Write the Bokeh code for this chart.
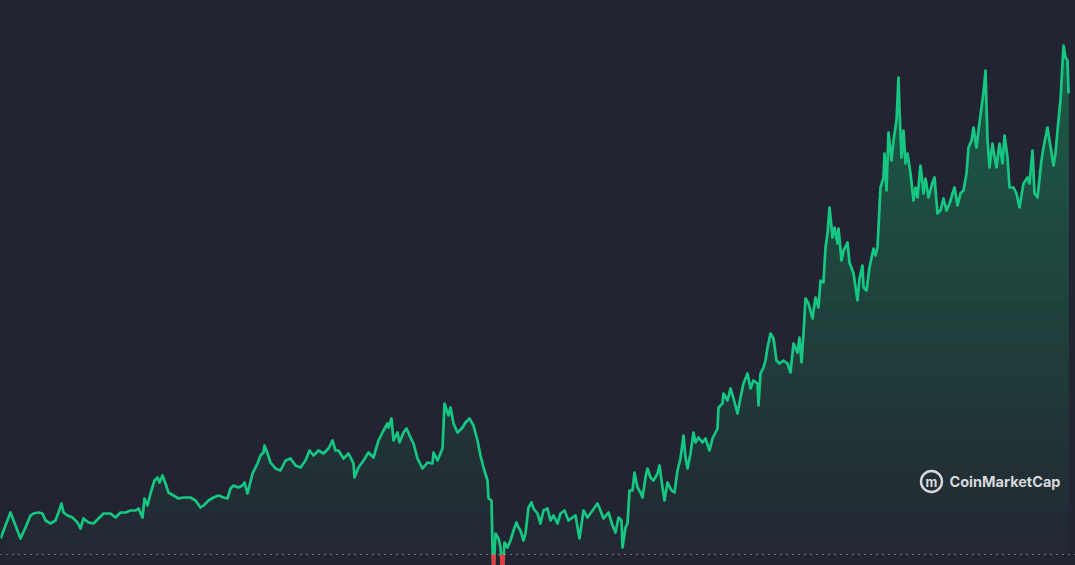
import numpy as np
from bokeh.plotting import figure
from bokeh.models import Span, Label, Range1d
from bokeh.embed import file_html
from bokeh.resources import INLINE

# ---------------- data ----------------
day = [0, 5, 10, 15, 20, 25, 30, 33, 38, 42, 45, 50, 55, 58, 61, 63, 67, 72, 77, 80,
       83, 88, 93, 98, 103, 110, 115, 120, 125, 130, 135, 138, 142, 144, 147, 150, 154, 157, 159, 162,
       165, 168, 173, 178, 183, 190, 195, 200, 203, 208, 213, 218, 223, 227, 230, 233, 238, 242, 244, 247,
       252, 257, 260, 263, 264, 267, 270, 275, 280, 285, 290, 295, 300, 305, 309, 313, 318, 323, 328, 332,
       335, 338, 343, 348, 353, 354, 358, 363, 368, 373, 378, 383, 387, 388, 391, 393, 397, 399, 403, 406,
       410, 413, 417, 422, 427, 432, 433, 437, 442, 444, 448, 450, 453, 457, 462, 465, 469, 473, 477, 480,
       483, 487, 488, 491, 492, 493, 495, 498, 500, 502, 504, 507, 510, 513, 516, 518, 520, 523, 525, 528,
       531, 533, 537, 540, 543, 547, 550, 553, 557, 560, 564, 568, 572, 575, 579, 583, 587, 592, 597, 600,
       603, 608, 612, 615, 618, 621, 622, 625, 627, 629, 632, 634, 637, 640, 642, 645, 647, 650, 653, 657,
       659, 662, 664, 667, 671, 674, 677, 680, 683, 685, 687, 690, 693, 695, 698, 702, 705, 709, 712, 717,
       718, 722, 723, 727, 730, 733, 737, 740, 743, 747, 750, 753, 757, 758, 760, 763, 765, 767, 770, 773,
       776, 779, 783, 787, 790, 793, 797, 799, 801, 803, 805, 808, 812, 815, 818, 820, 823, 825, 827, 829,
       832, 834, 837, 838, 841, 843, 847, 849, 853, 857, 859, 862, 863, 866, 869, 873, 875, 877, 880, 883,
       884, 886, 888, 891, 893, 896, 898, 899, 901, 903, 905, 907, 910, 913, 915, 917, 920, 923, 925, 928,
       932, 934, 937, 940, 943, 946, 949, 954, 957, 960, 963, 966, 968, 971, 973, 976, 978, 981, 983, 985,
       987, 989, 992, 993, 996, 999, 1002, 1004, 1007, 1009, 1013, 1016, 1019, 1023, 1027, 1029, 1032, 1034, 1037, 1041,
       1043, 1047, 1049, 1053, 1055, 1057, 1060, 1062, 1063, 1065, 1067, 1068]

price = [0.62, 0.75, 0.88, 0.75, 0.62, 0.73, 0.85, 0.87, 0.88, 0.87, 0.80, 0.77, 0.80, 0.88, 0.97, 0.88, 0.85, 0.83, 0.78, 0.72,
         0.82, 0.78, 0.77, 0.82, 0.87, 0.87, 0.83, 0.88, 0.88, 0.90, 0.90, 0.92, 0.83, 1.02, 0.95, 1.07, 1.20, 1.23, 1.18, 1.25,
         1.17, 1.08, 1.05, 1.02, 1.03, 1.03, 1.00, 0.93, 0.95, 1.00, 1.03, 1.05, 1.03, 1.02, 1.12, 1.15, 1.13, 1.15, 1.18, 1.07,
         1.27, 1.37, 1.45, 1.48, 1.55, 1.47, 1.38, 1.32, 1.30, 1.40, 1.42, 1.35, 1.33, 1.40, 1.50, 1.45, 1.50, 1.47, 1.52, 1.60,
         1.50, 1.50, 1.42, 1.47, 1.37, 1.23, 1.33, 1.40, 1.48, 1.43, 1.60, 1.70, 1.77, 1.73, 1.82, 1.60, 1.68, 1.58, 1.68, 1.72,
         1.63, 1.57, 1.42, 1.32, 1.38, 1.37, 1.48, 1.40, 1.52, 1.97, 1.85, 1.93, 1.77, 1.68, 1.73, 1.78, 1.82, 1.75, 1.60, 1.45,
         1.33, 1.20, 1.02, 1.00, 0.53, 0.25, 0.67, 0.62, 0.53, 0.25, 0.58, 0.53, 0.60, 0.70, 0.78, 0.73, 0.70, 0.60, 0.67, 0.93,
         0.98, 0.92, 0.87, 0.77, 0.90, 0.92, 0.80, 0.85, 0.77, 0.87, 0.90, 0.80, 0.83, 0.85, 0.62, 0.90, 0.83, 0.90, 0.97, 0.90,
         0.82, 0.88, 0.75, 0.68, 0.83, 0.80, 0.53, 0.73, 0.77, 1.10, 1.10, 1.28, 1.13, 1.08, 1.03, 1.23, 1.32, 1.23, 1.20, 1.27,
         1.35, 1.13, 1.00, 1.18, 1.10, 1.08, 1.30, 1.42, 1.65, 1.43, 1.32, 1.47, 1.68, 1.58, 1.63, 1.58, 1.62, 1.50, 1.62, 1.72,
         1.93, 1.97, 2.07, 2.00, 2.12, 2.02, 1.87, 2.03, 2.17, 2.27, 2.12, 2.20, 2.17, 1.95, 2.27, 2.33, 2.40, 2.53, 2.67, 2.62,
         2.40, 2.37, 2.40, 2.37, 2.28, 2.57, 2.48, 2.63, 2.38, 2.67, 3.02, 2.97, 2.82, 3.03, 2.93, 3.20, 3.18, 3.53, 3.67, 3.93,
         3.63, 3.73, 3.57, 3.72, 3.40, 3.50, 3.58, 3.38, 3.27, 3.00, 3.22, 3.35, 3.13, 3.10, 3.33, 3.52, 3.45, 3.53, 4.13, 4.23,
         4.47, 4.10, 4.68, 4.40, 4.60, 4.80, 5.23, 4.90, 4.43, 4.70, 4.37, 4.47, 4.27, 4.00, 4.13, 4.03, 4.35, 4.07, 4.22, 4.03,
         4.18, 4.23, 3.87, 3.90, 4.02, 3.90, 3.97, 4.13, 3.95, 4.07, 4.10, 4.27, 4.53, 4.60, 4.73, 4.53, 4.70, 4.93, 5.08, 5.30,
         4.60, 4.33, 4.57, 4.50, 4.33, 4.57, 4.37, 4.65, 4.43, 4.13, 4.13, 4.07, 3.93, 4.17, 4.23, 4.17, 4.50, 4.07, 4.03, 4.40,
         4.53, 4.73, 4.60, 4.35, 4.47, 4.70, 5.00, 5.37, 5.55, 5.43, 5.40, 5.07]

open_price = 0.46
watermark = "CoinMarketCap"

# ---------------- style ----------------
BG = "#222531"
GREEN = "#16c784"
RED = "#ea3943"
FILL_TOP = (27, 92, 71)
FILL_BOTTOM = (35, 40, 50)

x = np.array(day, dtype=float)
y = np.array(price, dtype=float)

p = figure(width=1075, height=565, output_backend="svg", toolbar_location=None,
           x_axis_location=None, y_axis_location=None,
           x_range=Range1d(0, 1075), y_range=Range1d(0.35, 6.00),
           background_fill_color=BG, border_fill_color=BG,
           outline_line_color=None, min_border=0)
p.xgrid.visible = False
p.ygrid.visible = False

try:
    from bokeh.models import GlobalInlineStyleSheet
    p.stylesheets = [GlobalInlineStyleSheet(
        css="html, body { background-color: #222531; margin: 0; padding: 0; overflow: hidden; }")]
except Exception:
    pass

# vertical gradient fill: opaque layers painted bottom-up, each covering all area above its level
n_layers = 48
top = y.max()
for k in range(n_layers):
    t = k / (n_layers - 1)
    lvl = open_price + k * (top - open_price) / n_layers
    c = tuple(int(round(FILL_BOTTOM[j] + t * (FILL_TOP[j] - FILL_BOTTOM[j]))) for j in range(3))
    color = "#%02x%02x%02x" % c
    p.varea(x=x, y1=np.full_like(y, lvl), y2=np.maximum(y, lvl), fill_color=color)

# baseline (opening price), white dots
p.add_layout(Span(location=open_price, dimension="width", line_color="#c4c7ce",
                  line_dash="1 5", line_width=1.2, line_alpha=0.9))

# main line
p.line(x, y, line_color=GREEN, line_width=2.7, line_join="round")

# red parts below the opening price
red_xs, red_ys = [], []
for i in range(len(x) - 1):
    x0, y0, x1, y1 = x[i], y[i], x[i + 1], y[i + 1]
    if y0 >= open_price and y1 >= open_price:
        continue
    if y0 < open_price and y1 < open_price:
        red_xs.append([x0, x1]); red_ys.append([y0, y1])
    elif y0 >= open_price:
        t = (y0 - open_price) / (y0 - y1)
        red_xs.append([x0 + t * (x1 - x0), x1]); red_ys.append([open_price, y1])
    else:
        t = (open_price - y0) / (y1 - y0)
        red_xs.append([x0, x0 + t * (x1 - x0)]); red_ys.append([y0, open_price])
if red_xs:
    p.multi_line(red_xs, red_ys, line_color=RED, line_width=2.7, line_join="round")

# watermark
p.scatter([931], [1.19], marker="circle", size=21, fill_color=None,
          line_color="#d6d8dd", line_width=2.4)
p.add_layout(Label(x=931, y=1.19, text="m", text_align="center", text_baseline="middle",
                   text_font="Inter", text_font_style="bold", text_font_size="13px",
                   text_color="#d6d8dd"))
p.add_layout(Label(x=949, y=1.19, text=watermark, text_baseline="middle",
                   text_font="Inter", text_font_style="bold", text_font_size="14.5px",
                   text_color="#d6d8dd"))

open("out.html", "w").write(file_html(p, INLINE))
